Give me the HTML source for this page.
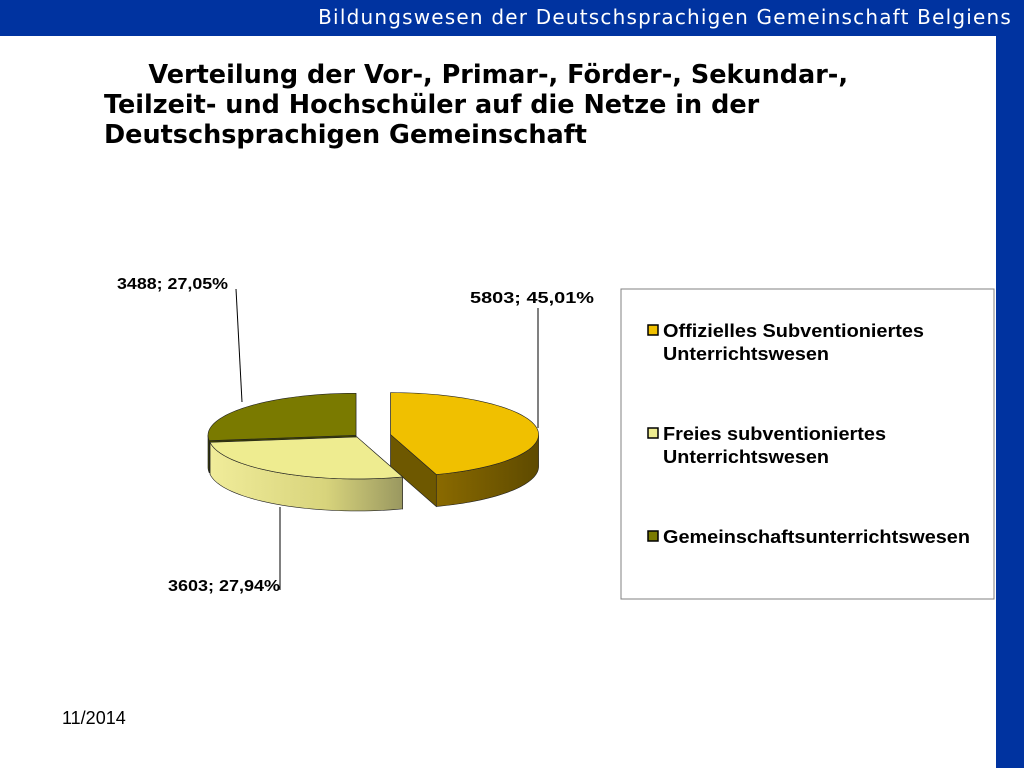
<!DOCTYPE html>
<html><head><meta charset="utf-8"><style>
body{margin:0;width:1024px;height:768px;position:relative;background:#fff;overflow:hidden;font-family:"Liberation Sans",sans-serif}
#top{position:absolute;left:0;top:0;width:1024px;height:36px;background:#0033a0;z-index:2}
#topt{position:absolute;right:12px;top:5px;color:#fff;font-family:"DejaVu Sans",sans-serif;font-size:20px;letter-spacing:1.2px;white-space:nowrap}
#right{position:absolute;left:996px;top:0;width:28px;height:768px;background:#0033a0}
#title{position:absolute;left:104px;top:60px;font-family:"DejaVu Sans",sans-serif;font-weight:bold;font-size:25.5px;line-height:30px;color:#000;white-space:nowrap}
#date{position:absolute;left:62px;top:708px;font-size:18px}
</style></head><body>
<div id="top"><div id="topt">Bildungswesen der Deutschsprachigen Gemeinschaft Belgiens</div></div>
<div id="right"></div>
<div id="title">&nbsp;&nbsp;&nbsp;&nbsp;&nbsp;Verteilung der Vor-, Primar-, Förder-, Sekundar-,<br>Teilzeit- und Hochschüler auf die Netze in der<br>Deutschsprachigen Gemeinschaft</div>
<div id="date">11/2014</div>
<svg id="chart" width="1024" height="768" style="position:absolute;left:0;top:0">
<defs>
<linearGradient id="g0" x1="0" x2="1"><stop offset="0" stop-color="#8a6a00"/><stop offset="1" stop-color="#5e4a00"/></linearGradient>
<linearGradient id="g1" x1="0" x2="1"><stop offset="0" stop-color="#f0ec9a"/><stop offset="0.6" stop-color="#d8d47c"/><stop offset="1" stop-color="#9a9860"/></linearGradient>
<linearGradient id="g2" x1="0" x2="1"><stop offset="0" stop-color="#3a3e00"/><stop offset="1" stop-color="#3a3e00"/></linearGradient>
</defs>
<g id="pie"></g>
<rect x="621" y="289" width="373" height="310" fill="#fff" stroke="#808080"/>
<g id="legend"></g>
</svg>
<script>
const categories=["Offizielles Subventioniertes\nUnterrichtswesen","Freies subventioniertes\nUnterrichtswesen","Gemeinschaftsunterrichtswesen"];
const values=[5803,3603,3488];
const percents=["45,01%","27,94%","27,05%"];
const topCol=["#f0c000","#eeec90","#7a7a00"];
const wallCol=["url(#g0)","url(#g1)","url(#g2)"];
const radCol=["#6e5800","#c8c478","#3a3e00"];
const explode=[32,4,4];
const cx=359,cy=436,rx=148,ry=42,depth=32;
const ns="http://www.w3.org/2000/svg";
const pie=document.getElementById('pie');
const total=values.reduce((a,b)=>a+b,0);
function pt(c,a,dy){return [c[0]+rx*Math.sin(a),c[1]-ry*Math.cos(a)+(dy||0)];}
function mk(tag,attrs,parent){const e=document.createElementNS(ns,tag);for(const k in attrs)e.setAttribute(k,attrs[k]);parent.appendChild(e);return e;}
let acc=0;const slices=[];
values.forEach((v,i)=>{const a0=acc/total*2*Math.PI;acc+=v;const a1=acc/total*2*Math.PI;const b=(a0+a1)/2;
 const c=[cx+explode[i]*Math.sin(b),cy-explode[i]*Math.cos(b)*ry/rx];slices.push({i,a0,a1,c});});
const order=[2,0,1];
order.forEach(i=>{const s=slices[i];const c=s.c;
 const g=mk('g',{},pie);
 
 
 [s.a0,s.a1].forEach(a=>{const p=pt(c,a);
  mk('path',{d:`M${c[0]},${c[1]} L${p[0]},${p[1]} L${p[0]},${p[1]+depth} L${c[0]},${c[1]+depth}Z`,fill:radCol[i],stroke:'#222','stroke-width':0.6},g);});
 const w0=Math.max(s.a0,Math.PI/2),w1=Math.min(s.a1,1.5*Math.PI);
 if(w1>w0){let d='';const n=40;
  for(let k=0;k<=n;k++){const p=pt(c,w0+(w1-w0)*k/n);d+=(k?'L':'M')+p[0]+','+p[1];}
  for(let k=n;k>=0;k--){const p=pt(c,w0+(w1-w0)*k/n,depth);d+='L'+p[0]+','+p[1];}
  mk('path',{d:d+'Z',fill:wallCol[i],stroke:'#222','stroke-width':0.6},g);}
 let d=`M${c[0]},${c[1]}`;const n=60;
 for(let k=0;k<=n;k++){const p=pt(c,s.a0+(s.a1-s.a0)*k/n);d+='L'+p[0]+','+p[1];}
 mk('path',{d:d+'Z',fill:topCol[i],stroke:'#222','stroke-width':0.6},g);
});
const labelPos=[[470,303,'start',538,308,538,428,124],[280,591,'end',280,590,280,507,112],[228,289,'end',236,289,242,402,111]];
values.forEach((v,i)=>{const L=labelPos[i];
 const ln=mk('polyline',{points:`${L[3]},${L[4]} ${L[5]},${L[6]}`,fill:'none',stroke:'#000','stroke-width':1},pie);
 
 
 const t=mk('text',{x:L[0],y:L[1],'text-anchor':L[2],'font-size':16,'font-weight':'bold','font-family':'Liberation Sans',textLength:L[7],lengthAdjust:'spacingAndGlyphs'},pie);
 t.textContent=v+'; '+percents[i];
 
 
});
const lg=document.getElementById('legend');const ly=[337,440,543];
const lens=[[261,166],[223,166],[307]];
categories.forEach((cat,i)=>{
 const g=mk('g',{},lg);
 
 
 mk('rect',{x:648,y:ly[i]-12,width:10,height:10,fill:topCol[i],stroke:'#000','stroke-width':1.5},g);
 cat.split('\n').forEach((line,j)=>{const t=mk('text',{x:663,y:ly[i]+j*23,'font-size':18,'font-weight':'bold','font-family':'Liberation Sans',textLength:lens[i][j],lengthAdjust:'spacingAndGlyphs'},g);t.textContent=line;});
});
</script>
</body></html>
